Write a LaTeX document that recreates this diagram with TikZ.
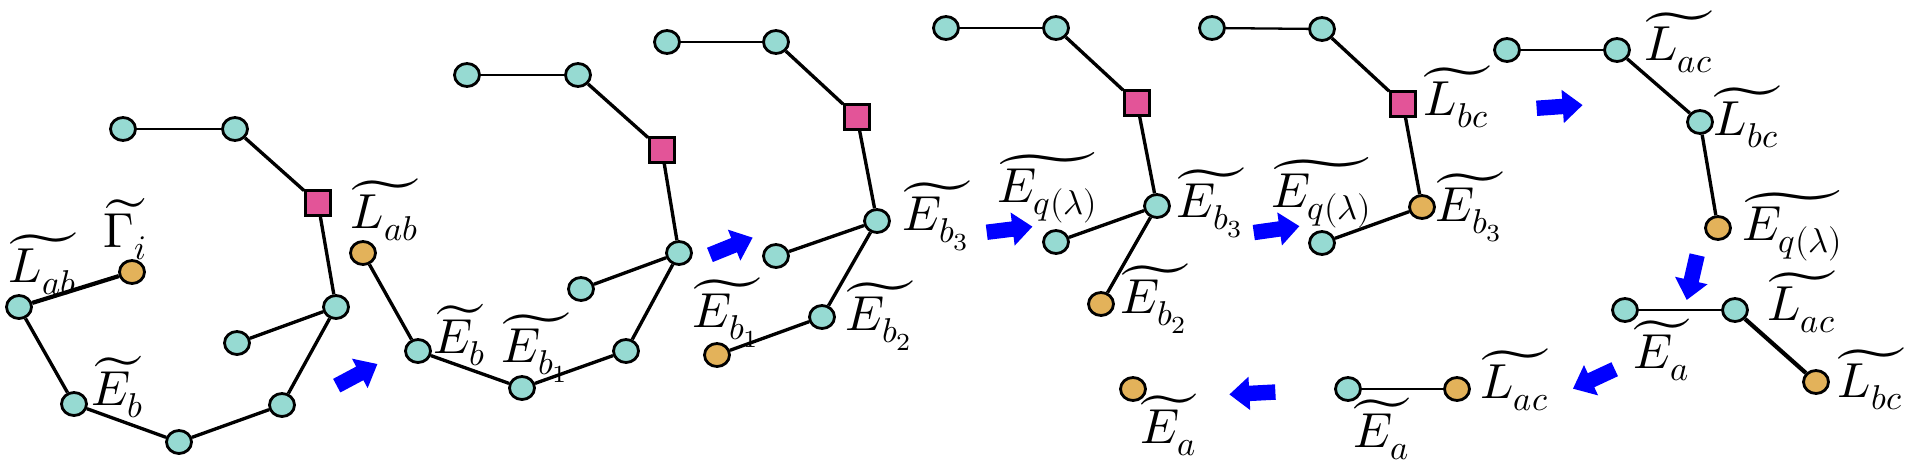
\documentclass[tikz,border=0pt]{standalone}
\usepackage{unicode-math}
\setmathfont{Latin Modern Math}
\usetikzlibrary{shapes.geometric,shapes.arrows}
\definecolor{tealc}{RGB}{150,218,210}
\definecolor{orangec}{RGB}{227,178,90}
\definecolor{pinkc}{RGB}{227,84,152}
\newcommand{\wt}[1]{\widetilde{\vphantom{L}#1}}
\tikzset{
  tn/.style={ellipse,draw=black,line width=0.8pt,fill=tealc,minimum width=2.5mm,minimum height=2.3mm,inner sep=0pt},
  on/.style={tn,fill=orangec},
  sq/.style={rectangle,draw=black,line width=0.8pt,fill=pinkc,minimum size=2.5mm,inner sep=0pt},
  edge/.style={line width=0.95pt},
  thinedge/.style={line width=0.65pt},
  thickedge/.style={line width=1.2pt},
  lab/.style={inner sep=0pt,anchor=base,font=\fontsize{14pt}{16pt}\selectfont},
  barrow/.style={single arrow,fill=blue,draw=none,minimum height=4.6mm,inner xsep=0pt,inner ysep=0.7mm,single arrow head extend=0.9mm,single arrow tip angle=80}
}
\begin{document}
\begin{tikzpicture}[x=0.1mm,y=-0.1mm]
\useasboundingbox (0,0) rectangle (1920,464);
% ---------- panel 1
\node[tn] (n1a) at (123,129) {};
\node[tn] (n1b) at (235,129) {};
\node[sq] (n1s) at (318,203) {};
\node[tn] (n1c) at (336,307) {};
\node[tn] (n1d) at (237,343) {};
\node[tn] (n1e) at (282,405) {};
\node[tn] (n1f) at (179,442) {};
\node[tn] (n1g) at (74,404) {};
\node[tn] (n1h) at (19,307) {};
\node[on] (n1o) at (132,272) {};
\draw[thinedge] (n1a) -- (n1b);
\draw[edge] (n1b) -- (n1s) -- (n1c) -- (n1d);
\draw[edge] (n1c) -- (n1e) -- (n1f) -- (n1g) -- (n1h);
\draw[thickedge] (n1h) -- (n1o);
\node[lab] (l1g) at (126,247) {$\widetilde{\Gamma_i}$};
\node[lab] (l1l) at (43,282) {$\widetilde{L_{ab}}$};
\node[lab] (l1e) at (118,405) {$\widetilde{E_b}$};
\node[barrow,rotate=28] (r1) at (353,377) {};
% ---------- panel 2
\node[tn] (n2a) at (467,75) {};
\node[tn] (n2b) at (578,75) {};
\node[sq] (n2s) at (662,150) {};
\node[tn] (n2c) at (679,253) {};
\node[tn] (n2d) at (581,289) {};
\node[tn] (n2g) at (626,351) {};
\node[tn] (n2f) at (522,388) {};
\node[tn] (n2e) at (418,351) {};
\node[on] (n2o) at (363,253) {};
\draw[thinedge] (n2a) -- (n2b);
\draw[edge] (n2b) -- (n2s) -- (n2c) -- (n2d);
\draw[edge] (n2c) -- (n2g) -- (n2f) -- (n2e) -- (n2o);
\node[lab] (l2l) at (385,228) {$\widetilde{L_{ab}}$};
\node[lab] (l2e) at (460,353) {$\widetilde{E_b}$};
\node[lab] (l2f) at (536,362) {$\widetilde{E_{b_1}}$};
\node[barrow,rotate=22] (r2) at (727,248) {};
% ---------- panel 3
\node[tn] (n3a) at (667,42) {};
\node[tn] (n3b) at (776,42) {};
\node[sq] (n3s) at (857,117) {};
\node[tn] (n3c) at (877,221) {};
\node[tn] (n3d) at (776,256) {};
\node[tn] (n3e) at (822,317) {};
\node[on] (n3o) at (717,355) {};
\draw[thinedge] (n3a) -- (n3b);
\draw[edge] (n3b) -- (n3s) -- (n3c) -- (n3d);
\draw[edge] (n3c) -- (n3e) -- (n3o);
\node[lab] (l3a) at (727,327) {$\widetilde{E_{b_1}}$};
\node[lab] (l3b) at (880,330) {$\widetilde{E_{b_2}}$};
\node[lab] (l3c) at (937,230) {$\widetilde{E_{b_3}}$};
\node[barrow,rotate=7] (r3) at (1005,230) {};
% ---------- panel 4
\node[tn] (n4a) at (946,28) {};
\node[tn] (n4b) at (1056,28) {};
\node[sq] (n4s) at (1137,103) {};
\node[tn] (n4c) at (1157,206) {};
\node[tn] (n4d) at (1056,242) {};
\node[on] (n4o) at (1101,304) {};
\draw[thinedge] (n4a) -- (n4b);
\draw[edge] (n4b) -- (n4s) -- (n4c) -- (n4d);
\draw[edge] (n4c) -- (n4o);
\node[lab] (l4q) at (1048,202) {$\widetilde{E_{q(\lambda)}}$};
\node[lab] (l4b) at (1211,217) {$\widetilde{E_{b_3}}$};
\node[lab] (l4c) at (1155,313) {$\widetilde{E_{b_2}}$};
\node[barrow,rotate=8] (r4) at (1272,230) {};
% ---------- panel 5
\node[tn] (n5a) at (1212,28) {};
\node[tn] (n5b) at (1322,29) {};
\node[sq] (n5s) at (1403,104) {};
\node[on] (n5o) at (1422,207) {};
\node[tn] (n5d) at (1322,243) {};
\draw[thinedge] (n5a) -- (n5b);
\draw[edge] (n5b) -- (n5s) -- (n5o) -- (n5d);
\node[lab] (l5q) at (1322,207) {$\widetilde{E_{q(\lambda)}}$};
\node[lab] (l5b) at (1470,221) {$\widetilde{E_{b_3}}$};
\node[lab] (l5l) at (1457,115) {$\widetilde{L_{bc}}$};
\node[barrow,rotate=4] (r5) at (1555,107) {};
% ---------- panel 6
\node[tn] (n6a) at (1507,50) {};
\node[tn] (n6b) at (1617,50) {};
\node[tn] (n6c) at (1700,122) {};
\node[on] (n6o) at (1718,228) {};
\draw[thinedge] (n6a) -- (n6b);
\draw[edge] (n6b) -- (n6c) -- (n6o);
\node[lab] (l6a) at (1679,60) {$\widetilde{L_{ac}}$};
\node[lab] (l6b) at (1747,135) {$\widetilde{L_{bc}}$};
\node[lab] (l6q) at (1793,240) {$\widetilde{E_{q(\lambda)}}$};
\node[barrow,rotate=-103] (r6) at (1693,273) {};
% ---------- panel 7
\node[tn] (n7a) at (1625,310) {};
\node[tn] (n7b) at (1735,310) {};
\node[on] (n7o) at (1816,382) {};
\draw[thinedge] (n7a) -- (n7b);
\draw[thickedge] (n7b) -- (n7o);
\node[lab] (l7a) at (1802,320) {$\widetilde{L_{ac}}$};
\node[lab] (l7b) at (1871,397) {$\widetilde{L_{bc}}$};
\node[lab] (l7e) at (1662,368) {$\widetilde{E_a}$};
\node[barrow,rotate=205] (r7) at (1598,377) {};
% ---------- panel 8
\node[tn] (n8a) at (1348,389) {};
\node[on] (n8b) at (1457,389) {};
\draw[thinedge] (n8a) -- (n8b);
\node[lab] (l8a) at (1515,398) {$\widetilde{L_{ac}}$};
\node[lab] (l8e) at (1382,447) {$\widetilde{E_a}$};
\node[barrow,rotate=183] (r8) at (1257,393) {};
% ---------- panel 9
\node[on] (n9o) at (1133,389) {};
\node[lab] (l9e) at (1169,443) {$\widetilde{E_a}$};
\end{tikzpicture}
\end{document}
